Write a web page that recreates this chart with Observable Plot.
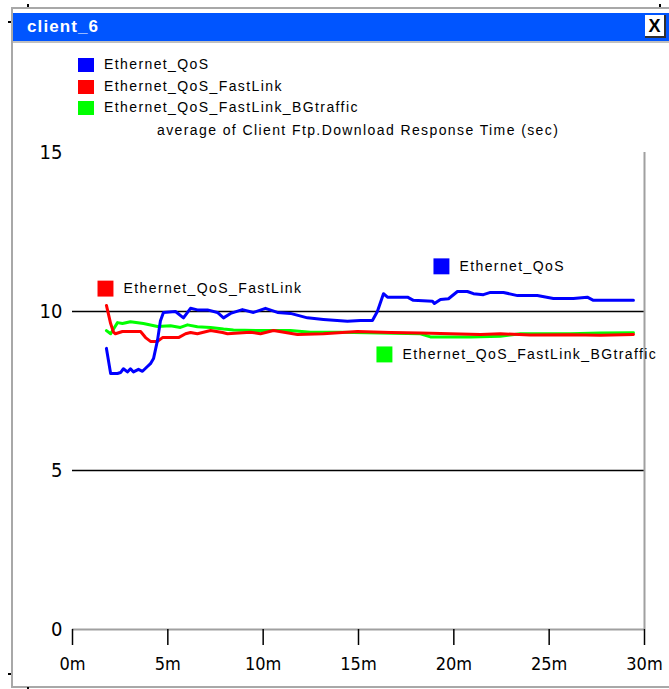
<!DOCTYPE html>
<html>
<head>
<meta charset="utf-8">
<script src="https://cdn.jsdelivr.net/npm/d3@7"></script>
<script src="https://cdn.jsdelivr.net/npm/@observablehq/plot@0.6"></script>
<style>
  html, body { margin: 0; padding: 0; background: white; }
  body { width: 669px; height: 689px; position: relative; overflow: hidden;
         font-family: "Liberation Sans", Arial, sans-serif; }
  .abs { position: absolute; }
  .txt { font-size: 14px; letter-spacing: 1.4px; color: #000; white-space: nowrap; }
  .dot { position: absolute; width: 2px; height: 3px; background: #000; }
  #chart svg { background: transparent !important; }
</style>
</head>
<body>
<div class="abs" style="left:11px;top:7px;width:658px;height:2px;background:#a8a8a8"></div>
<div class="abs" style="left:11px;top:7px;width:2px;height:681px;background:#a8a8a8"></div>
<div class="abs" style="left:11px;top:686px;width:658px;height:2px;background:#a8a8a8"></div>
<div class="abs" style="left:13px;top:41px;width:656px;height:2px;background:#c0c0c0"></div>
<div class="dot" style="left:27px;top:4px"></div>
<div class="dot" style="left:659px;top:4px"></div>
<div class="abs" style="left:8px;top:21px;width:3px;height:2px;background:#000"></div>
<div class="abs" style="left:8px;top:673px;width:3px;height:2px;background:#000"></div>
<div class="dot" style="left:27px;top:687px"></div>
<div id="chart" class="abs" style="left:0;top:0"></div>
<div class="abs" style="left:13px;top:13px;width:656px;height:28px;background:#0055ff"></div>
<div class="abs" style="left:27px;top:17px;color:white;font-weight:bold;font-size:17px;letter-spacing:1.1px">client_6</div>
<div class="abs" style="left:645px;top:15px;width:19px;height:21px;background:white;border-right:2px solid #303030;border-bottom:2px solid #303030;color:black;font-size:18px;font-weight:bold;text-align:center;line-height:22px">X</div>
<div id="legend"></div>
<script>
// ---- data ----
const seriesNames = ["Ethernet_QoS", "Ethernet_QoS_FastLink", "Ethernet_QoS_FastLink_BGtraffic"];
const seriesColors = ["#0000ff", "#ff0000", "#00ff00"];

const qosMin = [1.78,2.0,2.36,2.52,2.67,2.88,3.04,3.2,3.46,3.67,3.93,4.09,4.25,4.46,4.61,4.77,5.4,5.82,6.19,6.55,7.08,7.6,7.92,8.29,8.91,9.49,10.12,10.75,11.43,12.32,13.16,14.42,15.1,15.73,15.99,16.31,16.52,17.57,17.88,18.88,18.98,19.3,19.72,20.19,20.71,21.03,21.55,21.92,22.6,23.34,24.38,25.22,26.27,27.0,27.32,29.42];
const qosVal = [8.84,8.05,8.05,8.08,8.2,8.1,8.2,8.1,8.18,8.12,8.27,8.36,8.52,9.1,9.7,9.97,10.0,9.8,10.1,10.05,10.05,9.97,9.8,9.94,10.06,9.97,10.1,9.97,9.94,9.8,9.75,9.69,9.72,9.72,10.0,10.56,10.45,10.45,10.35,10.32,10.25,10.38,10.4,10.63,10.63,10.56,10.53,10.6,10.6,10.5,10.5,10.41,10.41,10.45,10.35,10.35];

const fastMin = [1.78,2.0,2.15,2.25,2.62,3.57,3.83,4.09,4.46,4.72,5.56,5.93,6.19,6.55,7.24,7.87,8.13,9.33,9.86,10.54,11.8,13.16,14.94,16.68,18.25,19.82,21.4,22.44,24.0,26.11,27.69,29.42];
const fastVal = [10.19,9.62,9.35,9.3,9.37,9.37,9.18,9.06,9.06,9.18,9.18,9.3,9.34,9.3,9.4,9.34,9.3,9.35,9.3,9.4,9.28,9.3,9.37,9.34,9.32,9.3,9.28,9.3,9.26,9.27,9.25,9.28];

const bgMin = [1.78,2.0,2.36,2.62,3.04,3.72,4.46,5.14,5.66,6.03,6.55,7.24,7.92,8.44,9.7,11.43,12.48,14.05,16.15,18.25,18.77,20.87,22.44,23.49,26.11,27.69,29.42];
const bgVal = [9.4,9.3,9.65,9.62,9.68,9.62,9.53,9.55,9.5,9.58,9.52,9.5,9.45,9.42,9.4,9.4,9.35,9.35,9.32,9.3,9.2,9.2,9.22,9.3,9.3,9.32,9.33];

const xTicks = [0, 5, 10, 15, 20, 25, 30];
const yTicks = [0, 5, 10, 15];
const gridValues = [5, 10];
const yTitle = "average of Client Ftp.Download Response Time (sec)";

// in-chart series labels (data coordinates)
const labelSeries = ["Ethernet_QoS_FastLink", "Ethernet_QoS", "Ethernet_QoS_FastLink_BGtraffic"];
const labelMin = [1.73, 19.35, 16.36];
const labelVal = [10.72, 11.42, 8.65];

// ---- build tables ----
const rows = [];
[[qosMin, qosVal], [fastMin, fastVal], [bgMin, bgVal]].forEach(([ms, vs], i) => {
  ms.forEach((m, j) => rows.push({series: seriesNames[i], t: m, v: vs[j]}));
});
const labels = labelSeries.map((s, i) => ({series: s, t: labelMin[i], v: labelVal[i]}));
const colorOf = s => seriesColors[seriesNames.indexOf(s)];

const font = "'Liberation Sans', Arial, sans-serif";
const tickFont = "'Liberation Sans Narrow', 'DejaVu Sans Condensed', 'Arial Narrow', sans-serif";
const chart = Plot.plot({
  width: 669, height: 689,
  marginTop: 152, marginBottom: 60, marginLeft: 72, marginRight: 25,
  style: {fontFamily: font, fontSize: "14px", background: "transparent", color: "black"},
  x: {domain: [0, 30]},
  y: {domain: [0, 15]},
  marks: [
    Plot.ruleY(gridValues, {stroke: "black", strokeWidth: 1.6}),
    Plot.ruleX([30], {stroke: "#a0a0a0", strokeWidth: 2}),
    Plot.ruleY([0], {stroke: "#a0a0a0", strokeWidth: 2}),
    Plot.axisX({ticks: xTicks, tickFormat: d => d + "m", tickSize: 16, tickPadding: 12, stroke: "black", strokeWidth: 1.5, label: null, fontSize: 18, fontFamily: tickFont}),
    Plot.axisY({ticks: yTicks, tickSize: 0, tickPadding: 10, label: null, fontSize: 20, fontFamily: tickFont}),
    Plot.line(rows.filter(d => d.series === seriesNames[2]), {x: "t", y: "v", stroke: seriesColors[2], strokeWidth: 3, curve: "linear"}),
    Plot.line(rows.filter(d => d.series === seriesNames[1]), {x: "t", y: "v", stroke: seriesColors[1], strokeWidth: 3, curve: "linear"}),
    Plot.line(rows.filter(d => d.series === seriesNames[0]), {x: "t", y: "v", stroke: seriesColors[0], strokeWidth: 3, curve: "linear"}),
    Plot.dot(labels, {x: "t", y: "v", symbol: "square", r: 9, fill: d => colorOf(d.series), stroke: null}),
    Plot.text(labels, {x: "t", y: "v", text: "series", textAnchor: "start", dx: 18, fill: "black", fontSize: 14})
  ]
});
chart.querySelectorAll("g[aria-label='text'] text").forEach(t => t.setAttribute("letter-spacing", "1.4"));
document.getElementById("chart").appendChild(chart);

// ---- legend ----
const leg = document.getElementById("legend");
const legTop = [58, 80, 101];
seriesNames.forEach((s, i) => {
  const sq = document.createElement("div");
  sq.className = "abs";
  sq.style.cssText = `left:78px;top:${legTop[i]}px;width:16px;height:14px;background:${seriesColors[i]}`;
  leg.appendChild(sq);
  const t = document.createElement("div");
  t.className = "abs txt";
  t.style.cssText += `left:104px;top:${legTop[i] - 2}px;`;
  t.textContent = s;
  leg.appendChild(t);
});
const yt = document.createElement("div");
yt.className = "abs txt";
yt.style.cssText += "left:157px;top:122px;";
yt.textContent = yTitle;
leg.appendChild(yt);
</script>
</body>
</html>
